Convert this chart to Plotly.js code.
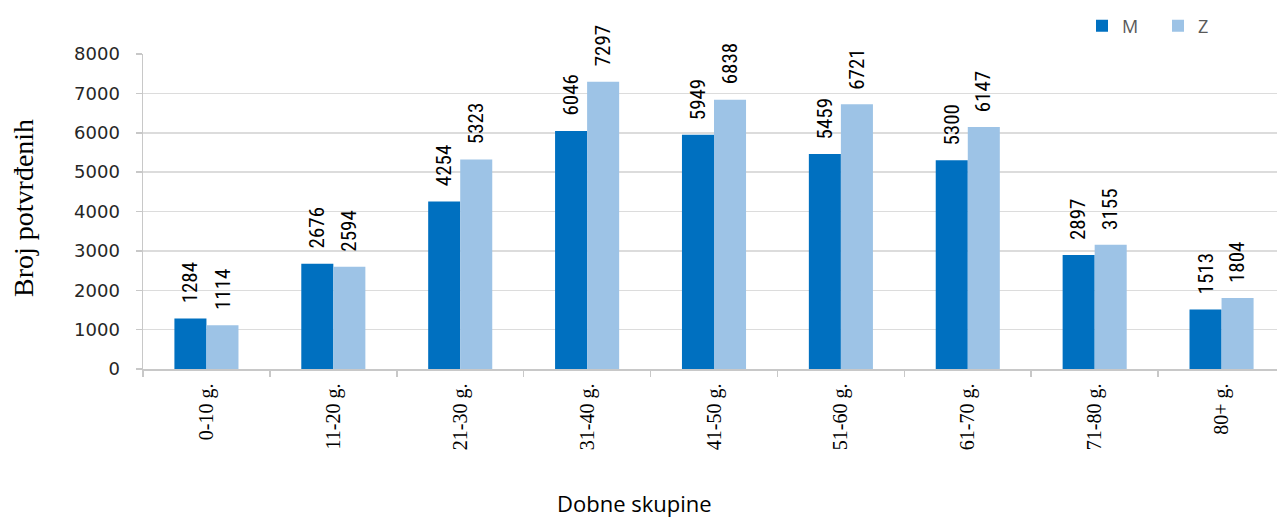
<!DOCTYPE html>
<html>
<head>
<meta charset="utf-8">
<script src="https://cdn.plot.ly/plotly-3.0.1.min.js"></script>
<style>
html,body{margin:0;padding:0;overflow:hidden;background:#fff;}
#chart{width:1286px;height:520px;}
</style>
</head>
<body>
<div id="chart"></div>
<script>
var categories = ["0-10 g.", "11-20 g.", "21-30 g.", "31-40 g.", "41-50 g.", "51-60 g.", "61-70 g.", "71-80 g.", "80+ g."];
var mValues = [1284, 2676, 4254, 6046, 5949, 5459, 5300, 2897, 1513];
var zValues = [1114, 2594, 5323, 7297, 6838, 6721, 6147, 3155, 1804];
var seriesNames = ["M", "Z"];
var yTicks = [0, 1000, 2000, 3000, 4000, 5000, 6000, 7000, 8000];

var W = 1286, H = 520;
var margin = {l: 143, r: 1, t: 54, b: 151, autoexpand: false};
var bargap = 0.495;
var plotW = W - margin.l - margin.r;
var plotH = H - margin.t - margin.b;
var catW = plotW / categories.length;
var barW = catW * (1 - bargap) / 2;

var colors = ["#0070C0", "#9DC3E6"];

var traces = [
  {type: "bar", name: seriesNames[0], x: categories, y: mValues, marker: {color: colors[0]}, hoverinfo: "x+y"},
  {type: "bar", name: seriesNames[1], x: categories, y: zValues, marker: {color: colors[1]}, hoverinfo: "x+y"}
];

var labelFont = {family: "'Liberation Sans Narrow', 'Arial Narrow', 'Roboto Condensed', sans-serif", size: 21, color: "#000"};
var annotations = [];
[mValues, zValues].forEach(function (vals, si) {
  vals.forEach(function (v, i) {
    annotations.push({
      x: categories[i], y: v, xref: "x", yref: "y",
      text: String(v), showarrow: false, textangle: -90,
      xanchor: "center", yanchor: "bottom",
      xshift: (si === 0 ? -1 : 1) * barW / 2, yshift: 13,
      font: labelFont
    });
  });
});

annotations.push({
  text: "Dobne skupine", xref: "paper", yref: "paper",
  x: (634 - margin.l) / plotW, y: (369 - 520) / plotH,
  xanchor: "center", yanchor: "bottom", showarrow: false,
  font: {family: "'Open Sans', sans-serif", size: 22, color: "#000"}
});
annotations.push({
  text: "Broj potvrđenih", xref: "paper", yref: "paper",
  x: (23 - margin.l) / plotW, y: (369 - 208) / plotH,
  xanchor: "center", yanchor: "middle", showarrow: false, textangle: -90,
  font: {family: "'Liberation Serif', 'Times New Roman', serif", size: 28, color: "#000"}
});

var layout = {
  width: W, height: H,
  margin: margin,
  paper_bgcolor: "#fff", plot_bgcolor: "#fff",
  barmode: "group", bargap: bargap, bargroupgap: 0,
  showlegend: true,
  legend: {
    orientation: "h", x: (1082 - margin.l) / plotW, xanchor: "left",
    y: 1 + (54 - 26) / plotH, yanchor: "middle",
    font: {family: "'Open Sans', sans-serif", size: 18, color: "#595959"},
    entrywidth: 31, entrywidthmode: "pixels", bgcolor: "rgba(0,0,0,0)"
  },
  xaxis: {
    type: "category",
    showline: true, linecolor: "#c8c8c8", linewidth: 1.5,
    ticks: "outside", tickson: "boundaries", ticklen: 6, tickcolor: "#c8c8c8", tickwidth: 1.5,
    showgrid: false, tickangle: -90,
    tickfont: {family: "'Liberation Serif', 'Times New Roman', serif", size: 20, color: "#000"},
    ticklabelstandoff: 5,
    fixedrange: true
  },
  yaxis: {
    range: [0, 8000], tickvals: yTicks, ticktext: yTicks.map(String),
    showline: true, linecolor: "#c8c8c8", linewidth: 1.5,
    ticks: "outside", ticklen: 6, tickcolor: "#c8c8c8", tickwidth: 1.5,
    showgrid: true, gridcolor: "#dcdcdc", gridwidth: 1.5,
    zeroline: false,
    tickfont: {family: "'DejaVu Sans', Verdana, sans-serif", size: 18, color: "#262626"},
    ticklabelstandoff: 12,
    fixedrange: true
  },
  annotations: annotations
};

Plotly.newPlot("chart", traces, layout, {displayModeBar: false, staticPlot: true});
</script>
</body>
</html>
